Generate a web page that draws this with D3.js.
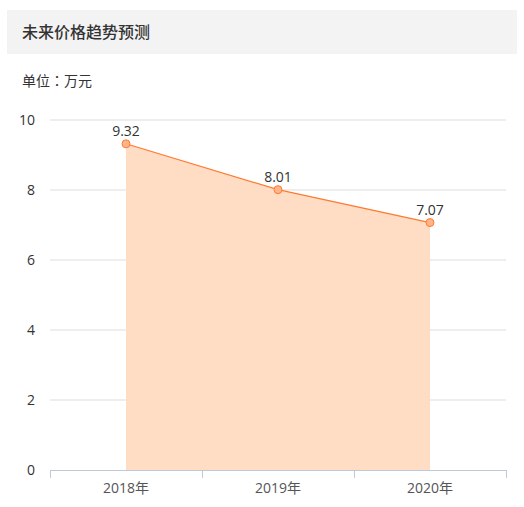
<!DOCTYPE html>
<html>
<head>
<meta charset="utf-8">
<script src="https://cdn.jsdelivr.net/npm/d3@7"></script>
<style>
  body { margin: 0; background: #fff; }
  svg { display: block; font-family: "Noto Sans CJK SC", "Noto Sans", sans-serif; }
</style>
</head>
<body>
<div id="chart"></div>
<script>
var years = ["2018年", "2019年", "2020年"];
var prices = [9.32, 8.01, 7.07];
var yTicks = [0, 2, 4, 6, 8, 10];

var svgW = 524, svgH = 507;
var margin = { top: 120, right: 18, bottom: 37, left: 50 };
var w = svgW - margin.left - margin.right;
var h = svgH - margin.top - margin.bottom;

var svg = d3.select("#chart").append("svg")
    .attr("width", svgW).attr("height", svgH);

// header bar
svg.append("rect").attr("x", 7).attr("y", 10).attr("width", 510).attr("height", 44)
    .attr("fill", "#f3f3f3");
svg.append("text").attr("x", 22).attr("y", 38)
    .attr("font-size", 16).attr("font-weight", 500).attr("fill", "#333")
    .text("未来价格趋势预测");
svg.append("text").attr("x", 22).attr("y", 86)
    .attr("font-size", 14).attr("fill", "#333")
    .attr("font-family", "'Noto Sans CJK TC', sans-serif")
    .text("单位：万元");

var g = svg.append("g")
    .attr("transform", `translate(${margin.left}, ${margin.top})`);

var x = d3.scaleBand().domain(years).range([0, w]);
var y = d3.scaleLinear().domain([0, 10]).range([h, 0]);

// grid
g.selectAll(".grid").data(yTicks.filter(d => d > 0)).enter().append("line")
    .attr("x1", 0).attr("x2", w)
    .attr("y1", d => y(d)).attr("y2", d => y(d))
    .attr("stroke", "#ddd").attr("stroke-width", 1);

var yAxis = g.append("g").call(d3.axisLeft(y).tickValues(yTicks).tickSize(0).tickPadding(15));
yAxis.select(".domain").remove();
yAxis.selectAll("text").attr("font-size", 14).attr("fill", "#333")
    .attr("font-family", "'Open Sans', sans-serif");

var cx = d => x(d) + x.bandwidth() / 2;
var data = years.map((d, i) => ({ year: d, v: prices[i] }));

var area = d3.area().x(d => cx(d.year)).y0(h).y1(d => y(d.v));
g.append("path").datum(data).attr("d", area).attr("fill", "#ffdcc4");

var line = d3.line().x(d => cx(d.year)).y(d => y(d.v));
g.append("path").datum(data).attr("d", line)
    .attr("fill", "none").attr("stroke", "#ff7a2e").attr("stroke-width", 1.2);

// x axis
var xAxis = g.append("g").attr("transform", `translate(0, ${h})`)
    .call(d3.axisBottom(x).tickSize(0).tickPadding(13));
xAxis.select(".domain").attr("stroke", "#bccadb");
xAxis.selectAll("text").attr("font-size", 14).attr("fill", "#555")
    .attr("font-family", "'Open Sans', 'Noto Sans CJK SC', sans-serif");
var bounds = [0].concat(years.map(d => x(d) + x.bandwidth()));
xAxis.selectAll(".sep").data(bounds).enter().append("line")
    .attr("x1", d => d + 0.5).attr("x2", d => d + 0.5).attr("y1", 0).attr("y2", 8)
    .attr("stroke", "#bccadb");

g.selectAll(".dot").data(data).enter().append("circle")
    .attr("cx", d => cx(d.year)).attr("cy", d => y(d.v)).attr("r", 4)
    .attr("fill", "#ffb48a").attr("stroke", "#ff7a2e").attr("stroke-width", 1);

g.selectAll(".lbl").data(data).enter().append("text")
    .attr("x", d => cx(d.year)).attr("y", d => y(d.v) - 8)
    .attr("text-anchor", "middle").attr("font-size", 14).attr("fill", "#333")
    .attr("font-family", "'Open Sans', sans-serif")
    .text(d => d.v.toFixed(2));
</script>
</body>
</html>
